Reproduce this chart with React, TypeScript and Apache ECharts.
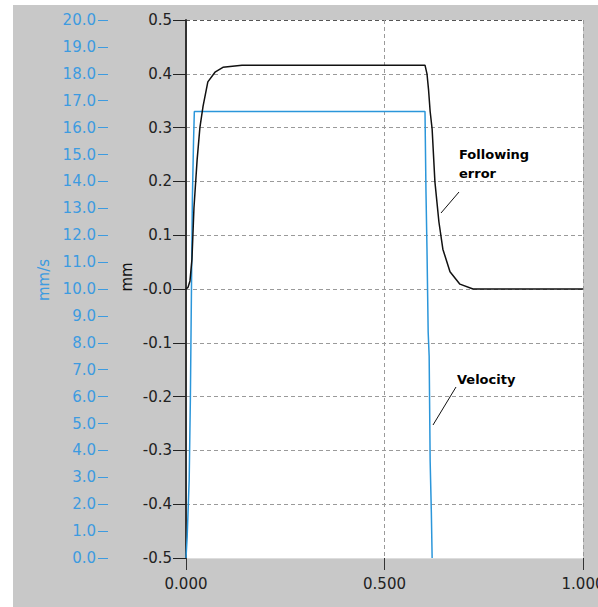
import React, { useEffect, useRef } from "react";
import * as echarts from "echarts";

// Time axis ticks (s)
const xTicks = [0, 0.5, 1.0];

// Velocity (mm/s) vs time
const velTime = [0, 0.003, 0.008, 0.011, 0.016, 0.019, 0.021, 0.602, 0.6045, 0.607, 0.61, 0.6125, 0.615, 0.618, 0.62];
const velValue = [0, 0.8, 2.9, 5.9, 13.3, 15.5, 16.6, 16.6, 13.6, 11.5, 8.4, 7.5, 3.6, 1.7, 0];

// Following error (mm) vs time
const errTime = [0, 0.005, 0.01, 0.015, 0.02, 0.028, 0.035, 0.043, 0.055, 0.073, 0.093, 0.141, 0.602, 0.607, 0.611, 0.615, 0.62, 0.627, 0.637, 0.647, 0.665, 0.69, 0.723, 1.0];
const errValue = [0, 0.003, 0.015, 0.055, 0.15, 0.24, 0.3, 0.34, 0.385, 0.403, 0.412, 0.416, 0.416, 0.4, 0.37, 0.33, 0.297, 0.199, 0.125, 0.074, 0.032, 0.009, 0, 0];

const BLUE = "#2b96da";
const BLUE_TEXT = "#3d9be0";
const FONT = "DejaVu Sans";

export default function App() {
  const ref = useRef<HTMLDivElement>(null);

  useEffect(() => {
    if (!ref.current) return;
    const chart = echarts.init(ref.current, undefined, { renderer: "svg", width: 585, height: 602 });
    const splitColors = ["#dddddd", "#9a9a9a", "#9a9a9a", "#9a9a9a", "#9a9a9a", "#9a9a9a", "#9a9a9a", "#9a9a9a", "#9a9a9a", "#9a9a9a", "#555555"];
    chart.setOption({
      animation: false,
      backgroundColor: "#c8c8c8",
      grid: {
        left: 173,
        top: 15,
        width: 397,
        height: 538,
        outerBoundsMode: "none",
        containLabel: false,
        show: true,
        backgroundColor: "#ffffff",
        borderWidth: 0,
      },
      xAxis: {
        type: "value",
        min: xTicks[0],
        max: xTicks[xTicks.length - 1],
        interval: 0.5,
        axisLine: { show: true, onZero: false, lineStyle: { color: "#dddddd", width: 1 } },
        axisTick: { show: true, length: 12, lineStyle: { color: "#333", width: 1 } },
        axisLabel: { margin: 18, color: "#222", fontFamily: FONT, fontSize: 15, formatter: (v: number) => v.toFixed(3) },
        splitLine: { show: true, lineStyle: { color: "#9a9a9a", type: [4, 3], width: 1 } },
      },
      yAxis: [
        {
          type: "value",
          position: "left",
          min: -0.5,
          max: 0.5,
          interval: 0.1,
          axisLine: { show: true, lineStyle: { color: "#333", width: 2 } },
          axisTick: { show: true, length: 13, lineStyle: { color: "#222", width: 1 } },
          axisLabel: {
            margin: 14,
            color: "#222",
            fontFamily: FONT,
            fontSize: 15,
            formatter: (v: number) => {
              const s = v.toFixed(1);
              return s === "0.0" || s === "-0.0" ? "-0.0" : s;
            },
          },
          splitLine: { show: true, lineStyle: { color: splitColors, type: [4, 3], width: 1 } },
        },
        {
          type: "value",
          position: "left",
          offset: 78,
          min: 0,
          max: 20,
          interval: 1,
          axisLine: { show: false },
          axisTick: { show: true, length: 10, lineStyle: { color: BLUE_TEXT, width: 1 } },
          axisLabel: { margin: 12, color: BLUE_TEXT, fontFamily: FONT, fontSize: 15, formatter: (v: number) => v.toFixed(1) },
          splitLine: { show: false },
        },
      ],
      series: [
        {
          name: "Velocity",
          type: "line",
          yAxisIndex: 1,
          showSymbol: false,
          data: velTime.map((t, i) => [t, velValue[i]]),
          lineStyle: { color: BLUE, width: 1.5 },
          itemStyle: { color: BLUE },
          z: 3,
        },
        {
          name: "Following error",
          type: "line",
          yAxisIndex: 0,
          showSymbol: false,
          data: errTime.map((t, i) => [t, errValue[i]]),
          lineStyle: { color: "#111", width: 1.5 },
          itemStyle: { color: "#111" },
          z: 4,
        },
      ],
      graphic: [
        { type: "text", x: 31, y: 275, rotation: Math.PI / 2, style: { text: "mm/s", fill: BLUE_TEXT, font: `15px ${FONT}`, textAlign: "center", textVerticalAlign: "middle" } },
        { type: "text", x: 114, y: 272, rotation: Math.PI / 2, style: { text: "mm", fill: "#111", font: `15px ${FONT}`, textAlign: "center", textVerticalAlign: "middle" } },
        { type: "text", x: 446, y: 149, style: { text: "Following", fill: "#000", font: `bold 13px ${FONT}`, textAlign: "left", textVerticalAlign: "middle" } },
        { type: "text", x: 446, y: 168, style: { text: "error", fill: "#000", font: `bold 13px ${FONT}`, textAlign: "left", textVerticalAlign: "middle" } },
        { type: "line", shape: { x1: 446, y1: 187, x2: 428, y2: 208 }, style: { stroke: "#111", lineWidth: 1 } },
        { type: "text", x: 444, y: 374, style: { text: "Velocity", fill: "#000", font: `bold 13px ${FONT}`, textAlign: "left", textVerticalAlign: "middle" } },
        { type: "line", shape: { x1: 443, y1: 382, x2: 420, y2: 420 }, style: { stroke: "#111", lineWidth: 1 } },
      ],
    });
    return () => chart.dispose();
  }, []);

  return (
    <div style={{ position: "fixed", left: 0, top: 0, width: 598, height: 607, background: "#ffffff", overflow: "hidden" }}>
      <div ref={ref} style={{ position: "absolute", left: 13, top: 5, width: 585, height: 602 }} />
    </div>
  );
}
